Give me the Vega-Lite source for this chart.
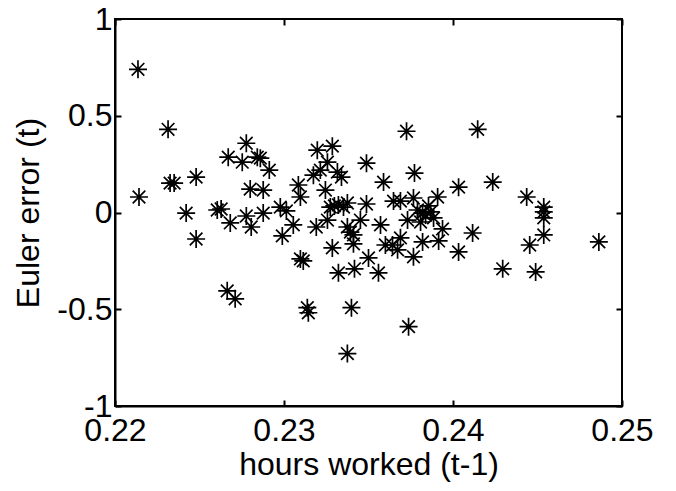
{
  "$schema": "https://vega.github.io/schema/vega-lite/v6.json",
  "width": 507,
  "height": 387,
  "autosize": "none",
  "padding": {"left": 115, "top": 19, "right": 54, "bottom": 85},
  "background": "white",
  "config": {
    "view": {"stroke": "black", "strokeWidth": 2},
    "axis": {
      "grid": false,
      "domainColor": "black",
      "domainWidth": 2,
      "tickColor": "black",
      "tickWidth": 2,
      "labelFont": "Liberation Sans",
      "labelFontSize": 32,
      "labelColor": "black",
      "titleFont": "Liberation Sans",
      "titleFontSize": 32,
      "titleFontWeight": "normal",
      "titleColor": "black"
    }
  },
  "data": {
    "values": [
      {"h": 0.22136, "e": 0.740}, {"h": 0.22142, "e": 0.080}, {"h": 0.22314, "e": 0.430},
      {"h": 0.22326, "e": 0.152}, {"h": 0.22350, "e": 0.152}, {"h": 0.22421, "e": -0.003},
      {"h": 0.22480, "e": 0.183}, {"h": 0.22480, "e": -0.137}, {"h": 0.22605, "e": 0.013},
      {"h": 0.22628, "e": 0.018}, {"h": 0.22670, "e": 0.286}, {"h": 0.22682, "e": -0.054},
      {"h": 0.22664, "e": -0.405}, {"h": 0.22711, "e": -0.446}, {"h": 0.22753, "e": 0.260},
      {"h": 0.22777, "e": 0.358}, {"h": 0.22777, "e": -0.018}, {"h": 0.22800, "e": 0.121},
      {"h": 0.22806, "e": -0.075}, {"h": 0.22842, "e": 0.286}, {"h": 0.22860, "e": 0.281},
      {"h": 0.22877, "e": 0.116}, {"h": 0.22877, "e": -0.003}, {"h": 0.22913, "e": 0.219},
      {"h": 0.22978, "e": 0.028}, {"h": 0.23014, "e": 0.008}, {"h": 0.23055, "e": -0.064},
      {"h": 0.22990, "e": -0.121}, {"h": 0.23085, "e": 0.142}, {"h": 0.23097, "e": 0.080},
      {"h": 0.23097, "e": -0.240}, {"h": 0.23114, "e": -0.250}, {"h": 0.23138, "e": -0.492},
      {"h": 0.23144, "e": -0.518}, {"h": 0.23174, "e": 0.193}, {"h": 0.23197, "e": 0.322},
      {"h": 0.23215, "e": 0.219}, {"h": 0.23257, "e": 0.260}, {"h": 0.23286, "e": 0.343},
      {"h": 0.23316, "e": 0.209}, {"h": 0.23340, "e": 0.183}, {"h": 0.23245, "e": 0.116},
      {"h": 0.23191, "e": -0.075}, {"h": 0.23257, "e": -0.039}, {"h": 0.23274, "e": 0.028},
      {"h": 0.23298, "e": 0.034}, {"h": 0.23322, "e": 0.039}, {"h": 0.23352, "e": 0.028},
      {"h": 0.23375, "e": 0.049}, {"h": 0.23286, "e": -0.183}, {"h": 0.23322, "e": -0.312},
      {"h": 0.23375, "e": -0.075}, {"h": 0.23393, "e": -0.101}, {"h": 0.23411, "e": -0.116},
      {"h": 0.23411, "e": -0.162}, {"h": 0.23417, "e": -0.291}, {"h": 0.23399, "e": -0.492},
      {"h": 0.23375, "e": -0.729}, {"h": 0.23452, "e": -0.039}, {"h": 0.23488, "e": 0.255},
      {"h": 0.23488, "e": 0.044}, {"h": 0.23500, "e": -0.235}, {"h": 0.23559, "e": -0.312},
      {"h": 0.23571, "e": -0.064}, {"h": 0.23589, "e": 0.157}, {"h": 0.23648, "e": 0.059},
      {"h": 0.23689, "e": 0.059}, {"h": 0.23642, "e": -0.168}, {"h": 0.23672, "e": -0.193},
      {"h": 0.23689, "e": -0.131}, {"h": 0.23725, "e": 0.420}, {"h": 0.23737, "e": -0.590},
      {"h": 0.23731, "e": -0.039}, {"h": 0.23766, "e": 0.075}, {"h": 0.23772, "e": 0.204},
      {"h": 0.23766, "e": -0.229}, {"h": 0.23790, "e": 0.013}, {"h": 0.23820, "e": -0.003},
      {"h": 0.23838, "e": -0.013}, {"h": 0.23867, "e": 0.003}, {"h": 0.23885, "e": -0.028},
      {"h": 0.23808, "e": -0.049}, {"h": 0.23855, "e": 0.034}, {"h": 0.23909, "e": 0.080},
      {"h": 0.23820, "e": -0.152}, {"h": 0.23915, "e": -0.147}, {"h": 0.23938, "e": -0.085},
      {"h": 0.24033, "e": 0.131}, {"h": 0.24033, "e": -0.204}, {"h": 0.24116, "e": -0.106},
      {"h": 0.24146, "e": 0.430}, {"h": 0.24235, "e": 0.157}, {"h": 0.24294, "e": -0.291},
      {"h": 0.24436, "e": 0.080}, {"h": 0.24454, "e": -0.168}, {"h": 0.24489, "e": -0.307},
      {"h": 0.24537, "e": 0.028}, {"h": 0.24537, "e": 0.003}, {"h": 0.24537, "e": -0.028},
      {"h": 0.24537, "e": -0.116}, {"h": 0.24863, "e": -0.152}, {"h": 0.23600, "e": -0.168}
    ]
  },
  "resolve": {"axis": {"x": "independent", "y": "independent"}},
  "layer": [
    {
      "mark": {
        "type": "point",
        "shape": "M-1,0L1,0M0,-1L0,1M-0.7,-0.7L0.7,0.7M-0.7,0.7L0.7,-0.7",
        "size": 324,
        "filled": false,
        "stroke": "black",
        "strokeWidth": 1.7,
        "opacity": 1
      },
      "encoding": {
        "x": {
          "field": "h", "type": "quantitative",
          "scale": {"domain": [0.22, 0.25], "nice": false, "zero": false},
          "axis": {
            "orient": "bottom",
            "values": [0.22, 0.23, 0.24, 0.25],
            "labelExpr": "datum.value + ''",
            "tickSize": -6,
            "labelPadding": 15,
            "labelFlush": false,
            "title": "hours worked (t-1)",
            "titlePadding": 3
          }
        },
        "y": {
          "field": "e", "type": "quantitative",
          "scale": {"domain": [-1, 1], "nice": false, "zero": false},
          "axis": {
            "orient": "left",
            "values": [-1, -0.5, 0, 0.5, 1],
            "labelExpr": "datum.value + ''",
            "tickSize": -6,
            "labelPadding": 9,
            "labelFlush": false,
            "title": "Euler error (t)",
            "titlePadding": 11
          }
        }
      }
    },
    {
      "mark": {"type": "point", "opacity": 0},
      "encoding": {
        "x": {
          "field": "h", "type": "quantitative",
          "axis": {"orient": "top", "values": [0.22, 0.23, 0.24, 0.25], "labels": false, "title": null, "tickSize": -6, "domain": false}
        },
        "y": {
          "field": "e", "type": "quantitative",
          "axis": {"orient": "right", "values": [-1, -0.5, 0, 0.5, 1], "labels": false, "title": null, "tickSize": -6, "domain": false}
        }
      }
    }
  ]
}
